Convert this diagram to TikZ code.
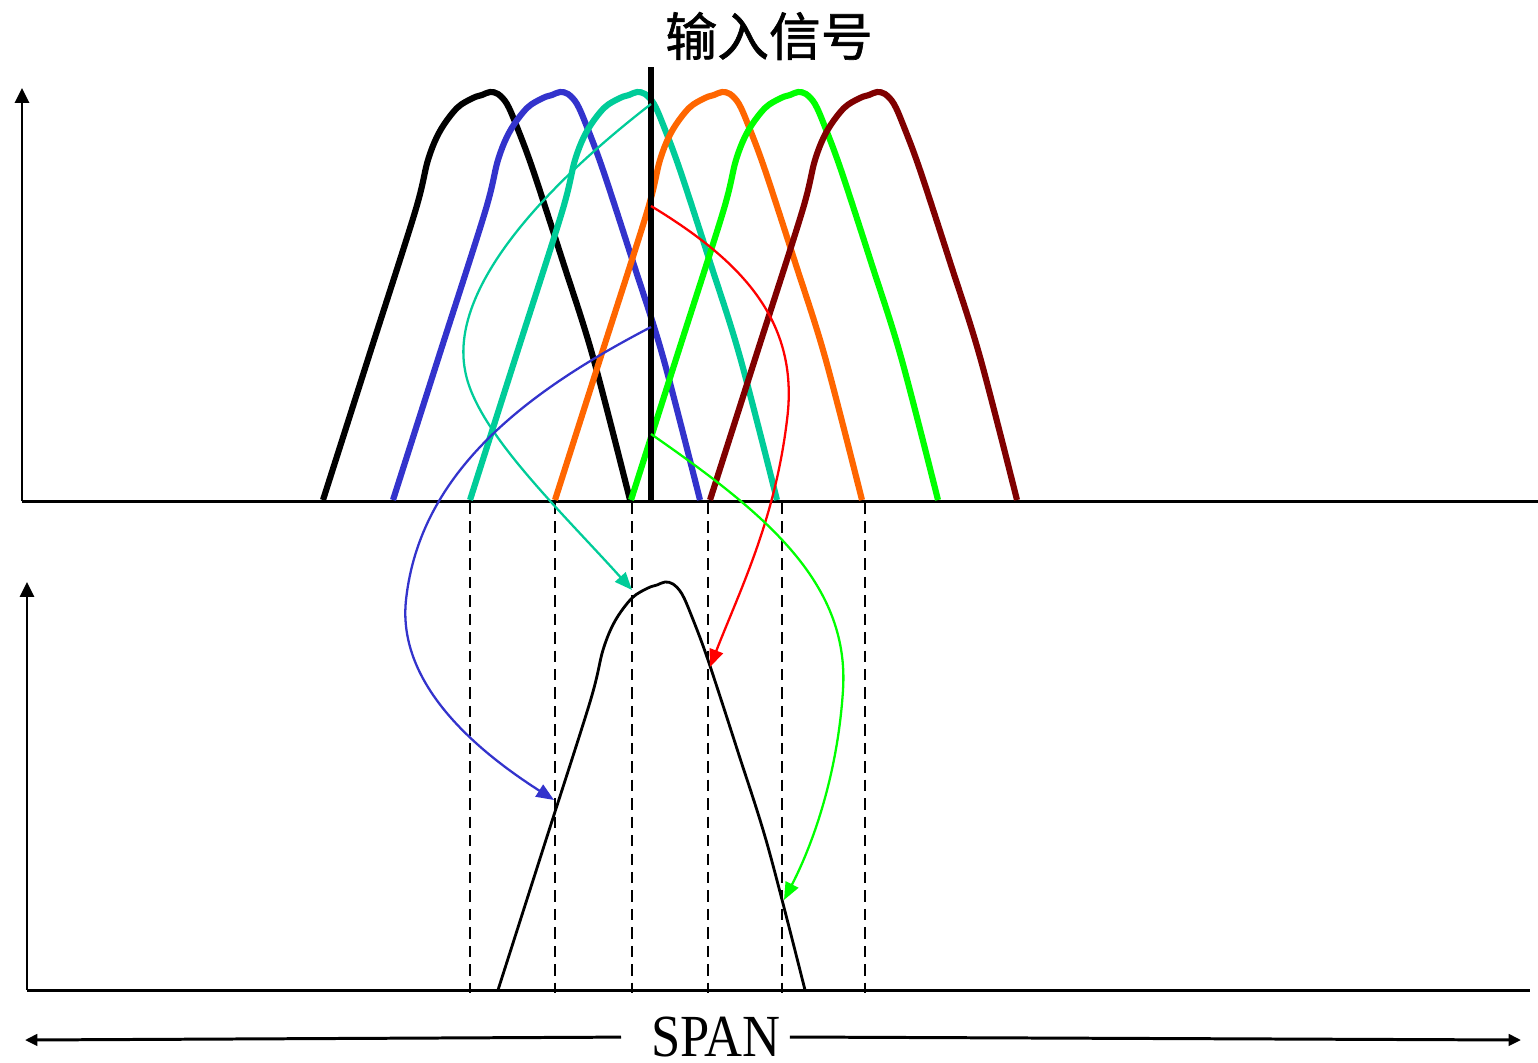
\documentclass[tikz,border=0pt]{standalone}
\usepackage{fontspec}
\usepackage{tikz}
\usetikzlibrary{arrows.meta,positioning}
\newfontfamily\cjkfont[FakeBold=1.2]{Noto Sans CJK SC}
\newfontfamily\spanfont[FakeStretch=0.88]{Liberation Serif}
\definecolor{fblue}{RGB}{51,51,204}
\definecolor{fteal}{RGB}{0,204,153}
\definecolor{forange}{RGB}{255,102,0}
\definecolor{fgreen}{RGB}{0,255,0}
\definecolor{fmaroon}{RGB}{128,0,0}
\definecolor{fred}{RGB}{255,0,0}
\newcommand{\filtercurve}[4]{%
  \draw[#1,draw=#2,shift={(#3,#4)}] plot[smooth,tension=0.55] coordinates {
    (0,500) (46,356) (92,212) (105,160) (117,131) (134,108) (150,98) (159,95)
    (167,92) (175,94) (184,104) (194,127) (210,170) (240,262) (270,357) (307,500)};}
\tikzset{
  axisarr/.style={-{Triangle[length=8.5pt,width=8pt]},line width=1.7pt},
  axisline/.style={line width=1.7pt},
  filt/.style={line width=3.5pt,line join=round},
  outfilt/.style={line width=1.6pt,line join=round},
  sigline/.style={line width=3pt},
  tap/.style={-{Triangle[length=10pt,width=8pt]},line width=1.3pt},
  guide/.style={dash pattern=on 6.5pt off 4pt,line width=1.6pt},
  spanarr/.style={-{Triangle[length=7pt,width=6.5pt]},line width=1.7pt}
}

\begin{document}
\begin{tikzpicture}[x=0.02cm,y=-0.02cm]
\useasboundingbox (0,0) rectangle (1538,1062);
% axes
\coordinate (topO) at (22,501);
\coordinate (topY) at (22,88);
\coordinate (topX) at (1538,501);
\coordinate (botO) at (27,990);
\coordinate (botY) at (27,582);
\coordinate (botX) at (1530,990);
\draw[axisarr] (topO) -- (topY);
\draw[axisline] (topO) -- (topX);
\draw[axisarr] (botO) -- (botY);
\draw[axisline] (botO) -- (botX);

% filter bank
\filtercurve{filt}{black}{323}{0}
\filtercurve{filt}{fblue}{393}{0}
\filtercurve{filt}{fteal}{470}{0}
\filtercurve{filt}{forange}{555}{0}
\filtercurve{filt}{fgreen}{631}{0}
\filtercurve{filt}{fmaroon}{710}{0}

% input signal
\node[font=\cjkfont\fontsize{29.5}{32}\selectfont] (title) at (769,36) {输入信号};
\coordinate (sigtop) at (651,67);
\coordinate (sigbot) at (651,503);
\draw[sigline] (sigtop) -- (sigbot);

% dashed guides
\draw[guide] (470,503) -- (470,993);
\draw[guide] (555,503) -- (555,993);
\draw[guide] (632,503) -- (632,993);
\draw[guide] (708,503) -- (708,993);
\draw[guide] (782,503) -- (782,993);
\draw[guide] (865,503) -- (865,993);

% output response
\filtercurve{outfilt}{black}{498}{490}

% sampled points
\coordinate (sigA) at (651,104);
\coordinate (sigB) at (651,206);
\coordinate (sigC) at (651,327);
\coordinate (sigD) at (651,434);
\coordinate (outA) at (632,590);
\coordinate (outB) at (710,667);
\coordinate (outC) at (554,800);
\coordinate (outD) at (784,900);
\draw[tap,draw=fteal] (sigA) .. controls (540,190) and (450,290) .. (465,370) .. controls (475,430) and (560,510) .. (outA);
\draw[tap,draw=fred] (sigB) .. controls (740,260) and (800,320) .. (787,420) .. controls (775,520) and (740,590) .. (outB);
\draw[tap,draw=fblue] (sigC) .. controls (530,390) and (420,470) .. (406,600) .. controls (398,675) and (460,740) .. (outC);
\draw[tap,draw=fgreen] (sigD) .. controls (760,510) and (850,580) .. (843,690) .. controls (838,770) and (815,840) .. (outD);

% span
\node[font=\spanfont\fontsize{34}{36}\selectfont,inner xsep=5pt,inner ysep=0pt] (span) at (716,1037) {SPAN};
\coordinate (spanL) at (25,1040);
\coordinate (spanR) at (1521,1040);
\draw[spanarr,shorten <=12pt] (span.west) -- (spanL);
\draw[spanarr] (span.east) -- (spanR);
\end{tikzpicture}
\end{document}
